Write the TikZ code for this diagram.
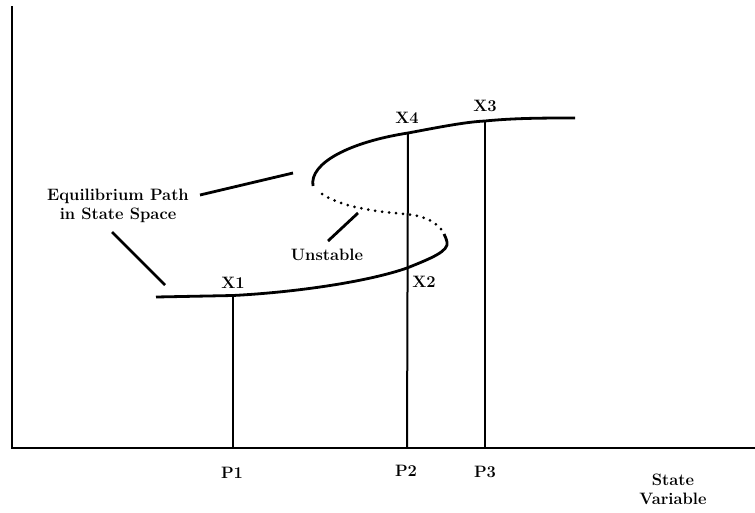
\documentclass[tikz,border=0pt]{standalone}
\usepackage{fontspec}
\setmainfont{Latin Modern Roman}
\begin{document}
\begin{tikzpicture}[x=1pt,y=-1pt,
  lbl/.style={font=\fontsize{16.5}{19}\selectfont\bfseries, inner sep=1pt},
  axisline/.style={line width=2.6pt},
  curveline/.style={line width=2.8pt},
  dotline/.style={line width=3pt, line cap=round, dash pattern=on 0pt off 7pt},
  vline/.style={line width=2pt},
  pointer/.style={line width=2.8pt}]
\useasboundingbox (0,0) rectangle (755,512);
% axes
\coordinate (top) at (12,6);
\coordinate (origin) at (12,448);
\coordinate (right) at (755,448);
\draw[axisline] (top) -- (origin) -- (right);
% key points on the curve
\coordinate (x1) at (233,295.5);
\coordinate (x2) at (407,268);
\coordinate (x4) at (408,133);
\coordinate (x3) at (485,121);
\coordinate (p1) at (233,448);
\coordinate (p2) at (407,448);
\coordinate (p3) at (485,448);
% lower stable branch
\draw[curveline] (156,297) -- (x1) .. controls (300,292) and (370,281) .. (x2)
  .. controls (432,258) and (449,251) .. (447,242) .. controls (446,238) and (445,236) .. (444,234);
% unstable branch
\draw[dotline] (441,229) .. controls (432,219) and (420,215) .. (400,213.5)
  .. controls (368,211) and (335,205) .. (318,191);
% upper stable branch
\draw[curveline] (313,186) .. controls (309,163) and (350,142) .. (x4)
  .. controls (440,127) and (465,122) .. (x3) .. controls (515,118) and (545,118) .. (575,118);
% verticals
\draw[vline] (x1) -- (p1);
\draw[vline] (x4) -- (p2);
\draw[vline] (x3) -- (p3);
% labels
\node[lbl] (lx1) at (233,283) {X1};
\node[lbl] (lx2) at (424,282) {X2};
\node[lbl] (lx4) at (407,118) {X4};
\node[lbl] (lx3) at (485,106) {X3};
\node[lbl] (lp1) at (232,473) {P1};
\node[lbl] (lp2) at (406,471) {P2};
\node[lbl] (lp3) at (485,472) {P3};
\node[lbl, align=center, inner sep=0pt] (state) at (673,489) {State\\Variable};
\node[lbl, align=center, inner sep=0pt] (eq) at (118,206) {Equilibrium Path\\in State Space};
\node[lbl] (unst) at (327,255) {Unstable};
% pointers
\coordinate (e1) at (293,173);
\coordinate (e2) at (165,285);
\coordinate (u1) at (358,213);
\draw[pointer] (200,195) -- (e1);
\draw[pointer] (112,232) -- (e2);
\draw[pointer] (328,241) -- (u1);
\end{tikzpicture}
\end{document}
